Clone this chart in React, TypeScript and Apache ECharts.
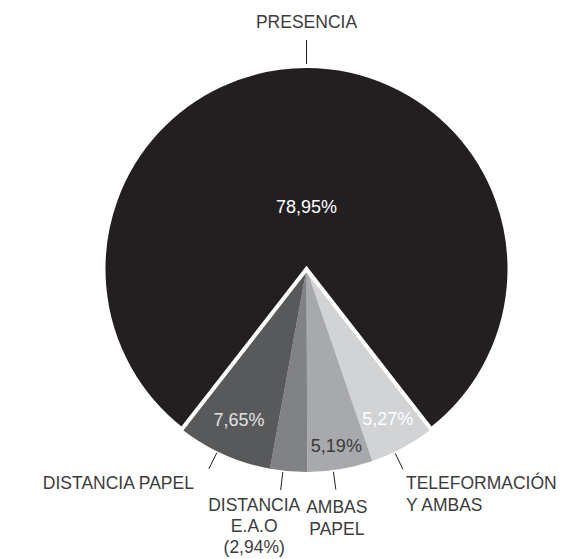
import React, { useEffect, useRef } from 'react';
import * as echarts from 'echarts';

// ---- data ----
const categories = ['PRESENCIA', 'DISTANCIA PAPEL', 'DISTANCIA E.A.O', 'AMBAS PAPEL', 'TELEFORMACIÓN Y AMBAS'];
const shares = [78.95, 7.65, 2.94, 5.19, 5.27];
const outerLabelLines = [['PRESENCIA'], ['DISTANCIA PAPEL'], ['DISTANCIA', 'E.A.O'], ['AMBAS', 'PAPEL'], ['TELEFORMACIÓN', 'Y AMBAS']];
const pctInOuterLabel = [false, false, true, false, false];
const pctInside = [true, true, false, true, true];
// clockwise drawing order, starting at the right edge of the bottom wedge
const drawOrder = [4, 3, 2, 1, 0];

// ---- styles ----
const sliceColors = ['#231f20', '#58595b', '#808285', '#a7a9ac', '#d1d3d4'];
const innerLabelColors = ['#ffffff', '#e2e2e2', '#ffffff', '#3a3a3a', '#ffffff'];
const innerRingKey = ['core', 'outerA', '', 'rim', 'outerB'];
const rings: Record<string, [number, number]> = {
  core: [0, 118],
  outerA: [121, 203],
  outerB: [133, 203],
  rim: [150, 203],
};
const R = 203;
const CENTER: [number, number] = [306.5, 269];
const FONT = "'Liberation Sans', Helvetica, Arial, sans-serif";

const outerStyle = [
  { align: 'center', vAlign: 'middle', dx: 0, dy: -18, turn: 0, gap: 0, len: 26, lh: 22 },
  { align: 'right', vAlign: 'middle', dx: -15, dy: 14, turn: 1.9, gap: 1.5, len: 18, lh: 22 },
  { align: 'center', vAlign: 'top', dx: -26.5, dy: 5, turn: 1.6, gap: 1.5, len: 18, lh: 21 },
  { align: 'center', vAlign: 'top', dx: 1, dy: 6, turn: 2, gap: 1.5, len: 18, lh: 22 },
  { align: 'left', vAlign: 'top', dx: 3, dy: 2.5, turn: 2.7, gap: 1.5, len: 18, lh: 22 },
];

const fmtPct = (v: number) => v.toFixed(2).replace('.', ',') + '%';

export default function App() {
  const ref = useRef<HTMLDivElement>(null);

  useEffect(() => {
    if (!ref.current) return;
    const chart = echarts.init(ref.current, null, { renderer: 'svg' });

    const smallSum = shares.slice(1).reduce((a, b) => a + b, 0);
    const startAngle = -90 + (smallSum * 3.6) / 2;

    const mainData = drawOrder.map((ci) => ({
      name: categories[ci],
      value: shares[ci],
      label: { lineHeight: outerStyle[ci].lh },
      itemStyle:
        ci === 0
          ? { color: sliceColors[ci], borderColor: '#ffffff', borderWidth: 4, borderJoin: 'miter' }
          : { color: sliceColors[ci], borderWidth: 0 },
    }));

    const mainSeries: any = {
      type: 'pie',
      center: CENTER,
      radius: R,
      startAngle,
      clockwise: true,
      avoidLabelOverlap: false,
      silent: true,
      data: mainData,
      label: {
        show: true,
        position: 'outside',
        color: '#3c3c3c',
        fontFamily: FONT,
        fontSize: 17.5,
        lineHeight: 22,
        formatter: (p: any) => {
          const ci = drawOrder[p.dataIndex];
          const lines = [...outerLabelLines[ci]];
          if (pctInOuterLabel[ci]) lines.push('(' + fmtPct(shares[ci]) + ')');
          return lines.join('\n');
        },
      },
      labelLine: { show: true, length: 18, length2: 0, smooth: false, lineStyle: { color: '#231f20', width: 1 } },
      labelLayout: (params: any) => {
        const ci = drawOrder[params.dataIndex];
        const st = outerStyle[ci];
        const pts = params.labelLinePoints;
        if (!pts || pts.length < 2) return {};
        const p0 = pts[0];
        const p1 = pts[1];
        const ux0 = p1[0] - p0[0];
        const uy0 = p1[1] - p0[1];
        const l = Math.hypot(ux0, uy0) || 1;
        const ux = ux0 / l;
        const uy = uy0 / l;
        const cx = p0[0] - ux * R;
        const cy = p0[1] - uy * R;
        const a = (st.turn * Math.PI) / 180;
        const vx = ux * Math.cos(a) - uy * Math.sin(a);
        const vy = ux * Math.sin(a) + uy * Math.cos(a);
        const s = [cx + vx * (R + st.gap), cy + vy * (R + st.gap)];
        const e = [cx + vx * (R + st.gap + st.len), cy + vy * (R + st.gap + st.len)];
        return {
          x: e[0] + st.dx,
          y: e[1] + st.dy,
          align: st.align,
          verticalAlign: st.vAlign,
          labelLinePoints: [s, e],
        };
      },
      emphasis: { disabled: true },
    };

    const ringSeries = Object.keys(rings).map((key) => ({
      type: 'pie',
      center: CENTER,
      radius: rings[key],
      startAngle,
      clockwise: true,
      avoidLabelOverlap: false,
      silent: true,
      z: 3,
      emphasis: { disabled: true },
      itemStyle: { color: 'rgba(0,0,0,0)', borderWidth: 0 },
      labelLine: { show: false },
      data: drawOrder.map((ci) => ({
        name: categories[ci],
        value: shares[ci],
        label: {
          show: pctInside[ci] && innerRingKey[ci] === key,
          position: 'inside',
          color: innerLabelColors[ci],
          fontFamily: FONT,
          fontSize: 18,
          formatter: () => fmtPct(shares[ci]),
        },
      })),
    }));

    chart.setOption({
      animation: false,
      backgroundColor: '#ffffff',
      series: [mainSeries, ...ringSeries],
    });

    return () => chart.dispose();
  }, []);

  return (
    <div
      ref={ref}
      style={{ position: 'absolute', left: 0, top: 0, width: 563, height: 559, background: '#ffffff' }}
    />
  );
}
